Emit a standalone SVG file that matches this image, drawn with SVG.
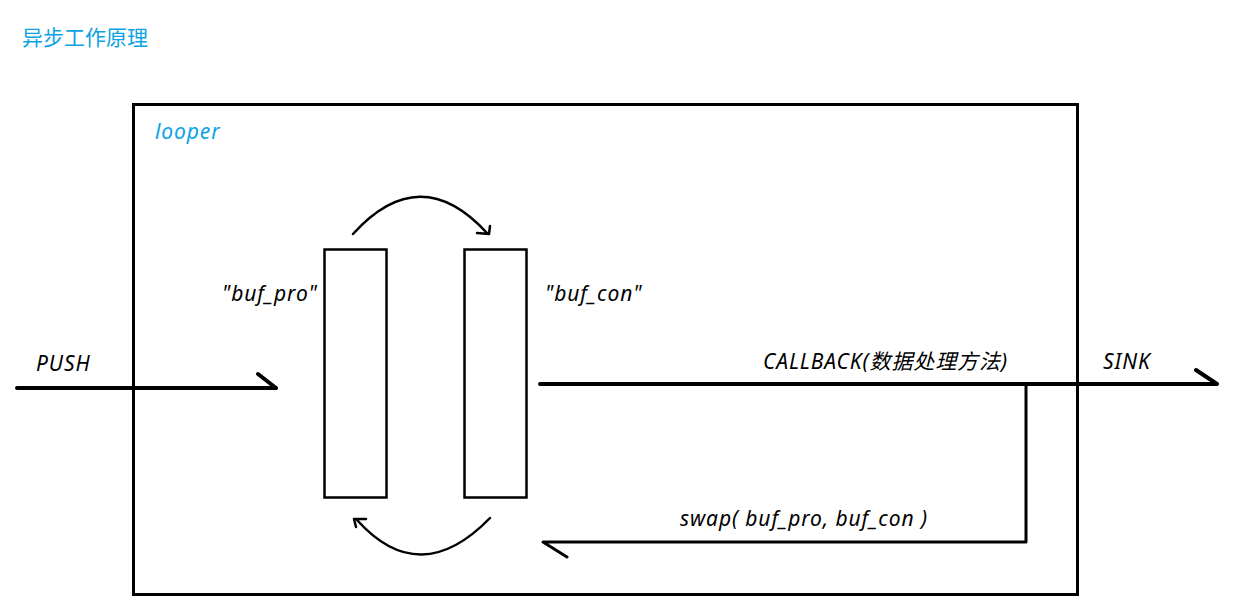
<svg xmlns="http://www.w3.org/2000/svg" width="1240" height="606" viewBox="0 0 1240 606">
<style>
.t{font-family:"Noto Sans","Noto Sans CJK SC",sans-serif;font-size:21px;font-style:italic;fill:#000;letter-spacing:0.9px}
.b{fill:#0ba3e3}
.ln{fill:none;stroke:#000;stroke-linecap:round;stroke-linejoin:round}
</style>
<rect width="1240" height="606" fill="#fff"/>
<text x="22" y="45" style="font-family:'Noto Sans CJK SC',sans-serif;font-size:21px;fill:#0ba3e3">异步工作原理</text>
<g id="looper">
<rect x="133.5" y="104.5" width="944" height="490" fill="none" stroke="#000" stroke-width="3"/>
<text class="t b" x="155" y="139">looper</text>
</g>
<g id="buf_pro">
<rect x="324.5" y="249.5" width="62" height="248" fill="none" stroke="#000" stroke-width="2.5"/>
<text class="t" x="222" y="301">"buf_pro"</text>
</g>
<g id="buf_con">
<rect x="464.5" y="249.5" width="62" height="248" fill="none" stroke="#000" stroke-width="2.5"/>
<text class="t" x="545" y="301">"buf_con"</text>
</g>
<g id="connectors">
<path class="ln" stroke-width="2.5" d="M353 234 Q 420 160 487 233 M477 233 L489 234 L490 226"/>
<path class="ln" stroke-width="2.5" d="M490 518 Q 420 590 357 520 M366 519 L354 519 L356 527"/>
<path class="ln" stroke-width="4" d="M17 388 L276 388 M258 374 L276 388"/>
<text class="t" x="36" y="371">PUSH</text>
<path class="ln" stroke-width="4" d="M540 384 L1217 384 M1196 370 L1217 384"/>
<text class="t" x="763" y="369">CALLBACK(数据处理方法)</text>
<text class="t" x="1103" y="369">SINK</text>
<path class="ln" stroke-width="3" d="M1026 384 L1026 542 L543 542 L567 557"/>
<text class="t" x="680" y="526">swap( buf_pro, buf_con )</text>
</g>
</svg>
